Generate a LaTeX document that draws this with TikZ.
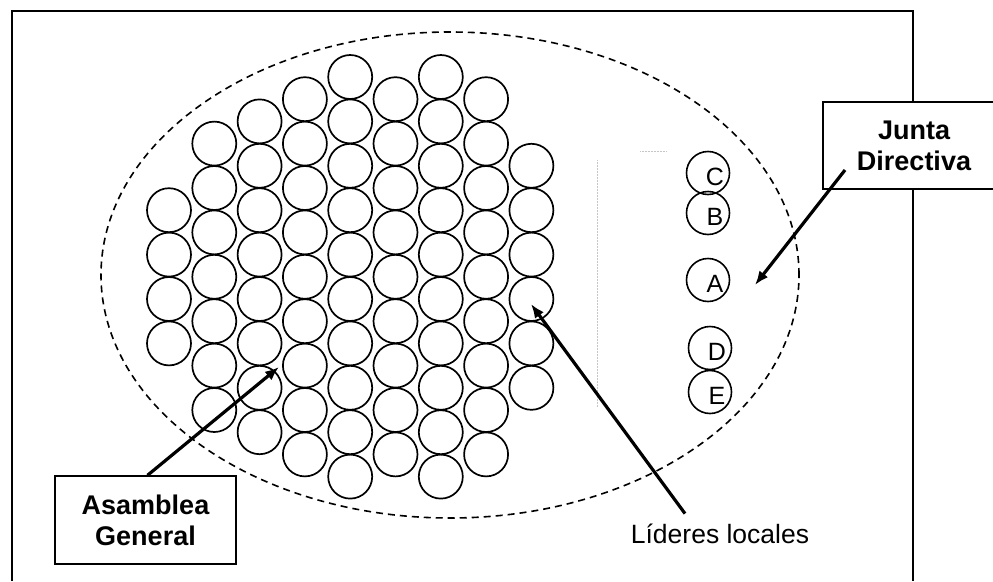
\documentclass[tikz,border=0pt]{standalone}
\usepackage{fontspec}
\setmainfont{Liberation Sans}
\usetikzlibrary{arrows.meta}

\tikzset{
  asiento/.style={line width=1.7pt},
  miembro/.style={circle, draw, line width=1.6pt, minimum size=43pt, inner sep=0pt,
    label={[font=\fontsize{25}{25}\selectfont, xshift=7pt, yshift=-4pt]center:#1}},
  rotulo/.style={align=center, font=\fontsize{27}{31}\selectfont\bfseries},
  caja/.style={draw, fill=white, line width=1.4pt},
  flecha/.style={line width=3.2pt, -{Latex[length=14pt,width=11pt]}},
}

\begin{document}
\begin{tikzpicture}[x=1pt, y=-1pt]
		\useasboundingbox (0,0) rectangle (993,581);
		\clip (0,0) rectangle (993,581);
		
		% marco
		\draw[line width=2pt] (12,581) -- (12,11) -- (913,11) -- (913,581);
		
		% asamblea
		\draw[line width=1.6pt, dash pattern=on 7pt off 5pt] (450,275) ellipse (349pt and 243pt);
		\foreach \col/\top/\num in {0/6/4, 1/3/7, 2/2/8, 3/1/9, 4/0/10, 5/1/9, 6/0/10, 7/1/9, 8/4/6} {
			\foreach \row in {1,...,\num}
				\draw[asiento] ({169+45.3*\col}, {77+22.2*(\top+2*\row-2)}) circle (22pt);
		}
		
		\draw[gray!45, densely dotted, line width=0.5pt] (597,160) -- (597,407);
		\draw[gray!45, densely dotted, line width=0.5pt] (640,151) -- (666,151);
		
		% junta directiva
		\node[miembro=C] (c) at (708,173) {};
		\node[miembro=B] (b) at (708,213) {};
		\node[miembro=A] (a) at (708,280) {};
		\node[miembro=D] (d) at (710,348) {};
		\node[miembro=E] (e) at (710,392) {};
		
		\draw[caja] (823,102) rectangle (1020,189);
		\node[rotulo] (junta) at (914,145.5) {Junta\\Directiva};
		\coordinate (ja) at (845,170);
		\coordinate (pa) at (755,285);
		\draw[flecha] (ja) -- (pa);
		
		% asamblea general
		\node[rotulo, caja, minimum width=181pt, minimum height=88pt] (asamblea) at (145.5,520) {Asamblea\\General};
		\coordinate (pg) at (279,367);
		\draw[flecha] ([xshift=2pt]asamblea.north) -- (pg);
		
		% lideres locales
		\node[font=\fontsize{26.5}{30}\selectfont] (lideres) at (720,534) {Líderes locales};
		\coordinate (pl) at (531,304);
		\draw[flecha] ([xshift=-35pt, yshift=7pt]lideres.north) -- (pl);
\end{tikzpicture}
\end{document}
